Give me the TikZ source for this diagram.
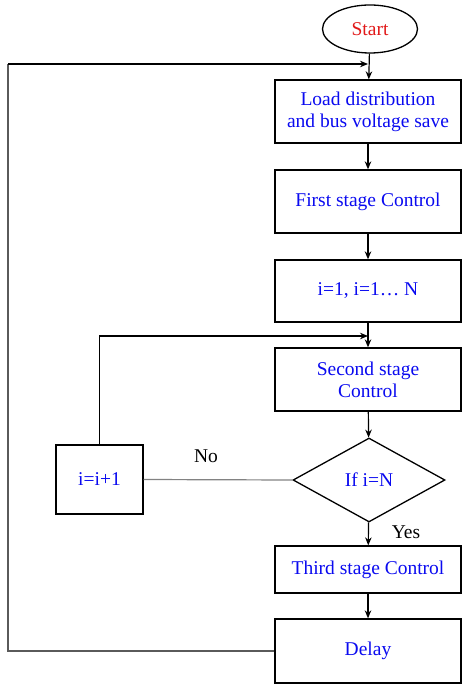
\documentclass[tikz,border=0pt]{standalone}
\usepackage{fontspec}
\setmainfont{Liberation Serif}
\usepackage{tikz}
\usetikzlibrary{shapes.geometric, arrows.meta, positioning}
\definecolor{myblue}{RGB}{10,10,240}
\definecolor{myred}{RGB}{225,25,25}
\definecolor{mydark}{RGB}{0,0,0}
\definecolor{mygray}{RGB}{90,90,90}
\definecolor{lightgray}{RGB}{130,130,130}
\tikzset{
  block/.style={rectangle, draw=mydark, fill=white, text=myblue,
    align=center, minimum width=186pt, inner sep=0pt,
    font=\fontsize{19.5}{22}\selectfont, line width=1.3pt},
  startnode/.style={ellipse, draw=mydark, text=myred,
    minimum width=95pt, minimum height=48pt, inner sep=0pt,
    font=\fontsize{19.5}{22}\selectfont, line width=1.3pt},
  decision/.style={diamond, draw=mydark, fill=white, text=myblue,
    aspect=1.81, minimum width=152pt, minimum height=84pt, inner sep=0pt,
    font=\fontsize{19.5}{22}\selectfont, line width=1.3pt},
  tag/.style={font=\fontsize{19.5}{22}\selectfont, text=mydark},
  arrow/.style={-{Stealth[length=8pt, width=6.5pt]}, line width=1.2pt, color=mydark},
  grayline/.style={line width=1.2pt, color=mygray},
  nolink/.style={line width=1.2pt, color=lightgray}
}

\begin{document}
\begin{tikzpicture}[x=1pt, y=-1pt]
  \useasboundingbox (0,0) rectangle (461,684);

  % Main column
  \node[startnode] (start) at (370,29) {Start};
  \node[block, minimum height=63pt] (load) at (368,111.5) {Load distribution\\and bus voltage save};
  \node[block, minimum height=63pt] (first) at (368,201.5) {First stage Control};
  \node[block, minimum height=62pt] (init) at (368,291) {i=1, i=1\ldots{} N};
  \node[block, minimum height=63pt] (second) at (368,379.5) {Second stage\\Control};
  \node[decision] (check) at (369,480) {If i=N};
  \node[block, minimum height=47pt] (third) at (368,569.5) {Third stage Control};
  \node[block, minimum height=64pt] (delay) at (368,651) {Delay};

  % Counter box
  \node[block, minimum width=87pt, minimum height=69pt] (inc) at (99.5,479.5) {i=i+1};

  % Labels
  \node[tag] (no) at (206,456) {No};
  \node[tag] (yes) at (406,532) {Yes};

  % Loop points
  \coordinate (back) at (8,64);
  \coordinate (top) at (368,64);
  \coordinate (inner) at (368,336);

  % Arrows
  \draw[arrow] (start) -- (load);
  \draw[arrow] (load) -- (first);
  \draw[arrow] (first) -- (init);
  \draw[arrow] (init) -- (second);
  \draw[arrow] (second) -- (check);
  \draw[arrow] (check) -- (third);
  \draw[arrow] (third) -- (delay);
  \draw[nolink] (check.west) -- (inc.east);
  \draw[arrow] (inc.north) |- (inner);
  \draw[grayline] (delay.west) -| (back);
  \draw[arrow] (back) -- (top);
\end{tikzpicture}
\end{document}
